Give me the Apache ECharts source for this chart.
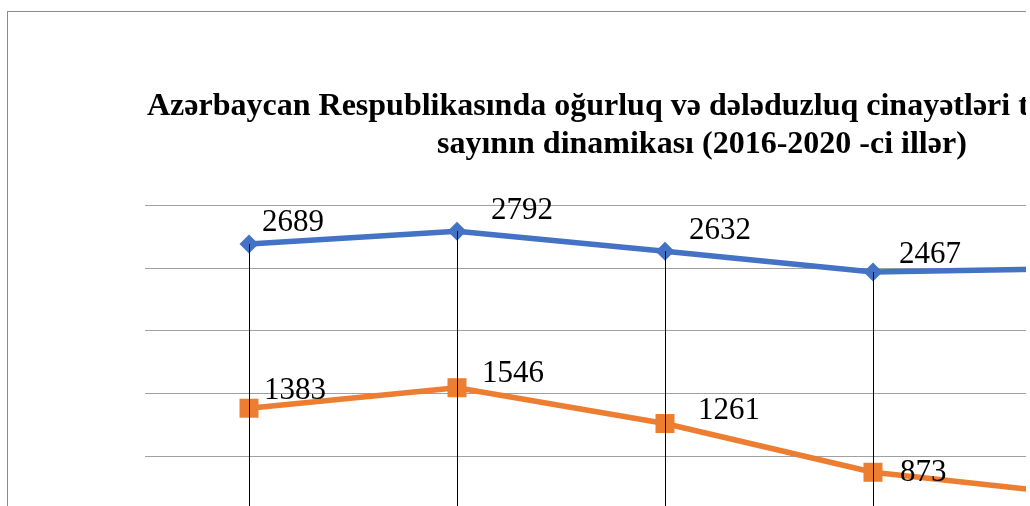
<!DOCTYPE html>
<html>
<head>
<meta charset="utf-8">
<script src="https://cdn.jsdelivr.net/npm/echarts@6/dist/echarts.min.js"></script>
<style>
  html, body { margin: 0; padding: 0; background: #fff; overflow: hidden; }
  /* the reference is a crop of a larger Excel chart */
  .clip { position: absolute; left: 0; top: 0; width: 1026px; height: 506px; overflow: hidden; }
  .frame {
    position: absolute; left: 7px; top: 11px;
    width: 1400px; height: 660px;
    border: 1px solid #8c8c8c; box-sizing: border-box;
  }
  #chart { width: 100%; height: 100%; }
</style>
</head>
<body>
<div class="clip">
  <div class="frame"><div id="chart"></div></div>
</div>
<script>
// data
const years = ['2016', '2017', '2018', '2019', '2020']
const theftCases = [2689, 2792, 2632, 2467, 2494]   // oğurluq
const fraudCases = [1383, 1546, 1261, 873, 692]     // dələduzluq
const titleLine1 = 'Azərbaycan Respublikasında oğurluq və dələduzluq cinayətləri törədilməsi hallarının'
const titleLine2 = 'sayının dinamikası (2016-2020 -ci illər)'

// label shifts (label left edge / text centre relative to the point)
const theftLabelShift = [[13, -21], [34, -20], [24, -20], [26, -17], [26, -17]]
const fraudLabelShift = [[15, -17], [25, -14], [33, -13], [27, 1], [27, 1]]

const serif = '"Liberation Serif", "DejaVu Serif", serif'

function withLabels(values, shifts, half) {
  return values.map((v, i) => ({
    value: v,
    label: { offset: [shifts[i][0] - half, shifts[i][1]] }
  }))
}

// drop lines from the upper series down to the axis
const dropLines = years.map((y, i) => [
  { coord: [y, Math.max(theftCases[i], fraudCases[i])] },
  { coord: [y, 0] }
])

const chart = echarts.init(document.getElementById('chart'))

chart.setOption({
  animation: false,
  backgroundColor: '#fff',
  title: [
    {
      text: titleLine1, left: 139, top: 76, padding: 0,
      textStyle: { fontFamily: serif, fontSize: 32, fontWeight: 'bold', color: '#000', lineHeight: 38 }
    },
    {
      text: titleLine2, left: 429, top: 114, padding: 0,
      textStyle: { fontFamily: serif, fontSize: 32, fontWeight: 'bold', color: '#000', lineHeight: 38 }
    }
  ],
  legend: {
    bottom: 10, left: 'center',
    textStyle: { fontFamily: serif, fontSize: 20, color: '#000' }
  },
  grid: { left: 137, top: 193, width: 1040, height: 377 },
  xAxis: {
    type: 'category',
    data: years,
    boundaryGap: true,
    axisLine: { lineStyle: { color: '#a0a0a0' } },
    axisTick: { show: false },
    axisLabel: { fontFamily: serif, fontSize: 20, color: '#000' }
  },
  yAxis: {
    type: 'value',
    min: 0, max: 3000, interval: 500,
    axisLabel: { show: false },
    axisLine: { show: false },
    axisTick: { show: false },
    splitLine: { lineStyle: { color: '#a0a0a0', width: 1 } }
  },
  series: [
    {
      name: 'Oğurluq',
      type: 'line',
      z: 3,
      data: withLabels(theftCases, theftLabelShift, 9.5),
      symbol: 'diamond',
      symbolSize: 19,
      lineStyle: { color: '#4472C4', width: 5.5 },
      itemStyle: { color: '#4472C4' },
      label: {
        show: true, position: 'right', distance: 0,
        fontFamily: serif, fontSize: 31, color: '#000'
      },
      markLine: {
        silent: true,
        symbol: 'none',
        label: { show: false },
        lineStyle: { color: '#000', width: 1, type: 'solid' },
        data: dropLines
      }
    },
    {
      name: 'Dələduzluq',
      type: 'line',
      z: 4,
      data: withLabels(fraudCases, fraudLabelShift, 9.5),
      symbol: 'rect',
      symbolSize: 19,
      lineStyle: { color: '#ED7D31', width: 5.5 },
      itemStyle: { color: '#ED7D31' },
      label: {
        show: true, position: 'right', distance: 0,
        fontFamily: serif, fontSize: 31, color: '#000'
      }
    }
  ]
})
</script>
</body>
</html>
